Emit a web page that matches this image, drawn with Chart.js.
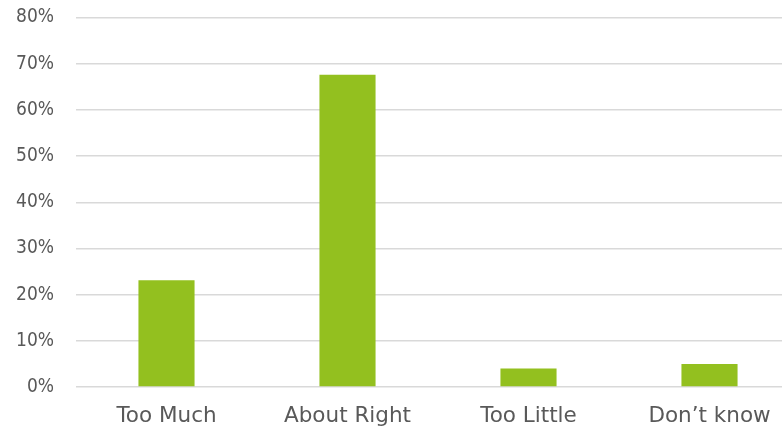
<!DOCTYPE html>
<html>
<head>
<meta charset="utf-8">
<script src="https://cdn.jsdelivr.net/npm/chart.js@4/dist/chart.umd.min.js"></script>
<style>
  html, body { margin: 0; padding: 0; background: #fff; overflow: hidden; }
  #wrap { position: relative; width: 800px; height: 431px; }
</style>
</head>
<body>
<div id="wrap"><canvas id="chart_canvas"></canvas></div>
<script>
const categories = ["Too Much", "About Right", "Too Little", "Don\u2019t know"];
const shares     = [23.1, 67.6, 4.0, 5.0];
const yTicks     = [0, 10, 20, 30, 40, 50, 60, 70, 80];

const context = document.getElementById("chart_canvas").getContext("2d");

new Chart(context, {
  type: "bar",
  data: {
    labels: categories,
    datasets: [{
      label: "share",
      data: shares,
      backgroundColor: "#93c01f",
      barPercentage: 0.31,
      categoryPercentage: 1
    }]
  },
  options: {
    responsive: true,
    maintainAspectRatio: false,
    animation: false,
    layout: { padding: { top: 17.5, left: 16, right: 0, bottom: 0 } },
    plugins: { legend: { display: false }, tooltip: { enabled: false } },
    scales: {
      x: {
        grid: { display: false, drawTicks: false },
        border: { display: false },
        afterFit: axis => { axis.height = 44; },
        ticks: {
          color: "#595959",
          padding: 17,
          maxRotation: 0,
          font: { family: "'DejaVu Sans'", size: 21.5 }
        }
      },
      y: {
        min: 0,
        max: 80,
        afterBuildTicks: axis => { axis.ticks = yTicks.map(v => ({ value: v })); },
        afterFit: axis => {
          axis.width = 60;
          axis.paddingTop = 0;
          axis.paddingBottom = 0;
        },
        grid: { color: "#d9d9d9", lineWidth: 1.5, drawTicks: false },
        border: { display: false },
        ticks: {
          color: "#595959",
          padding: 22,
          callback: v => v + "%",
          font: { family: "'DejaVu Sans Condensed', 'DejaVu Sans'", size: 19 }
        }
      }
    }
  }
});
</script>
</body>
</html>
